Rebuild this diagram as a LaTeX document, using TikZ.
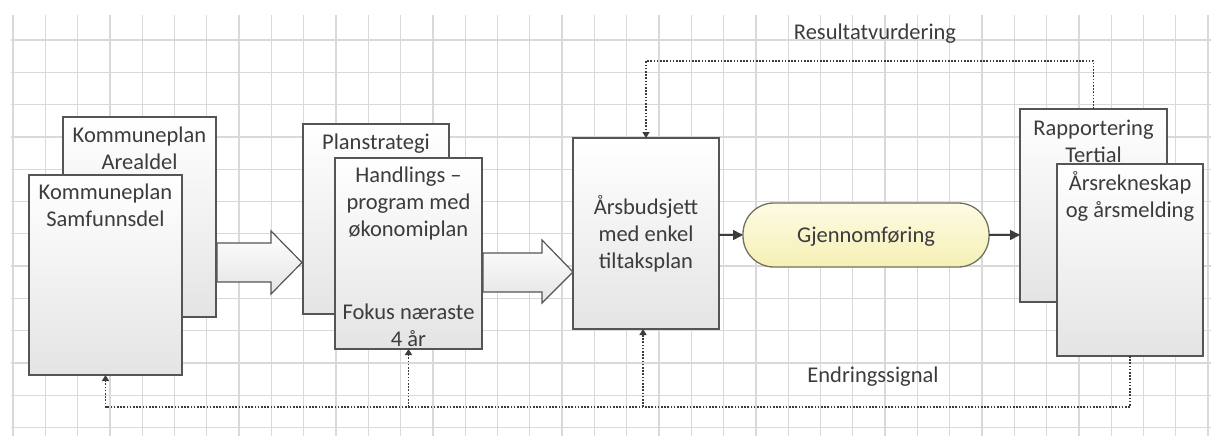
\documentclass[tikz,border=0pt]{standalone}
\usepackage{fontspec}
\setmainfont{Carlito}
\usetikzlibrary{arrows.meta,calc}
\definecolor{gridc}{HTML}{D9D9D9}
\definecolor{edgec}{HTML}{555555}
\definecolor{txtc}{HTML}{3C3C3C}
\definecolor{boxbot}{HTML}{E4E4E4}
\definecolor{yelltop}{HTML}{FDFBE4}
\definecolor{yellbot}{HTML}{F6F0B4}
\definecolor{yelledge}{HTML}{707060}
\tikzset{
  gridline/.style={draw=gridc, line width=1.3pt},
  box/.style={draw=edgec, line width=1.3pt, top color=white, bottom color=boxbot, inner sep=0pt, outer sep=0pt, anchor=north west},
  lbl/.style={text=txtc, font=\fontsize{22.5}{27}\selectfont, align=center, inner sep=0pt, anchor=north},
  slbl/.style={text=txtc, font=\fontsize{22.5}{27}\selectfont, inner sep=0pt, anchor=base},
  blockarrow/.style={draw=edgec, line width=1.2pt, top color=white, bottom color=boxbot},
  fb/.style={draw=txtc, line width=1.3pt, dash pattern=on 1.6pt off 1.6pt, -{Triangle[length=6pt,width=7pt]}},
  solidarrow/.style={draw=txtc, line width=1.6pt, -{Triangle[length=10pt,width=10pt]}},
  pill/.style={draw=yelledge, line width=1.3pt, top color=yelltop, bottom color=yellbot, rounded corners=31pt, inner sep=0pt, outer sep=0pt, anchor=north west}
}
\begin{document}
\begin{tikzpicture}[x=1pt,y=-1pt]
\useasboundingbox (0,0) rectangle (1211,436);
\fill[white] (0,0) rectangle (1211,436);
% grid
\foreach \i in {0,...,37} \draw[gridline] (13+32.3*\i,15) -- (13+32.3*\i,436);
\foreach \j in {0,...,12} \draw[gridline] (11,40+32.3*\j) -- (1211,40+32.3*\j);

% boxes
\node[box, minimum width=153pt, minimum height=200pt] (areal) at (63,117) {};
\node[lbl] at (139.5,123) {\strut Kommuneplan\\\strut Arealdel};
\node[box, minimum width=153pt, minimum height=200pt] (samf) at (29,175) {};
\node[lbl] at (105.5,180) {\strut Kommuneplan\\\strut Samfunnsdel};

\node[box, minimum width=146pt, minimum height=190pt] (plan) at (303,124) {};
\node[lbl] at (376,130) {\strut Planstrategi};
\node[box, minimum width=147pt, minimum height=191pt] (handl) at (335,158) {};
\node[lbl] at (408.5,163) {\strut Handlings --\\\strut program med\\\strut økonomiplan};
\node[lbl] at (408.5,300) {\strut Fokus næraste\\\strut 4 år};

\node[box, minimum width=146pt, minimum height=191pt] (aars) at (573,138) {};
\node[lbl] at (646,195) {\strut Årsbudsjett\\\strut med enkel\\\strut tiltaksplan};

\node[pill, minimum width=246pt, minimum height=64pt] (gjen) at (743,203) {};
\node[slbl] at (866,242) {Gjennomføring};

\node[box, minimum width=147pt, minimum height=193pt] (rapp) at (1020,109) {};
\node[lbl] at (1093.5,116) {\strut Rapportering\\\strut Tertial};
\node[box, minimum width=146pt, minimum height=192pt] (regn) at (1057,164) {};
\node[lbl] at (1130,171) {\strut Årsrekneskap\\\strut og årsmelding};

% block arrows
\path[blockarrow] (217,243) -- (271,243) -- (271,231) -- (302,262.5) -- (271,294) -- (271,282) -- (217,282) -- cycle;
\path[blockarrow] (483,253) -- (542,253) -- (542,240) -- (573,272) -- (542,303) -- (542,292) -- (483,292) -- cycle;

% solid arrows
\draw[solidarrow] (aars.east |- gjen.west) -- (gjen.west);
\draw[solidarrow] (gjen.east) -- (rapp.west |- gjen.east);

% feedback loops
\draw[fb] (rapp.north) -- ++(0,-48) -| (aars.north);
\node[slbl] at (875,40) {Resultatvurdering};

\draw[fb] (regn.south) -- ++(0,51) -| (samf.south);
\draw[fb] (handl.south |- 0,407) -- (handl.south);
\draw[fb] ([xshift=-3pt]aars.south |- 0,407) -- ([xshift=-3pt]aars.south);
\node[slbl] at (873,382) {Endringssignal};
\end{tikzpicture}
\end{document}
